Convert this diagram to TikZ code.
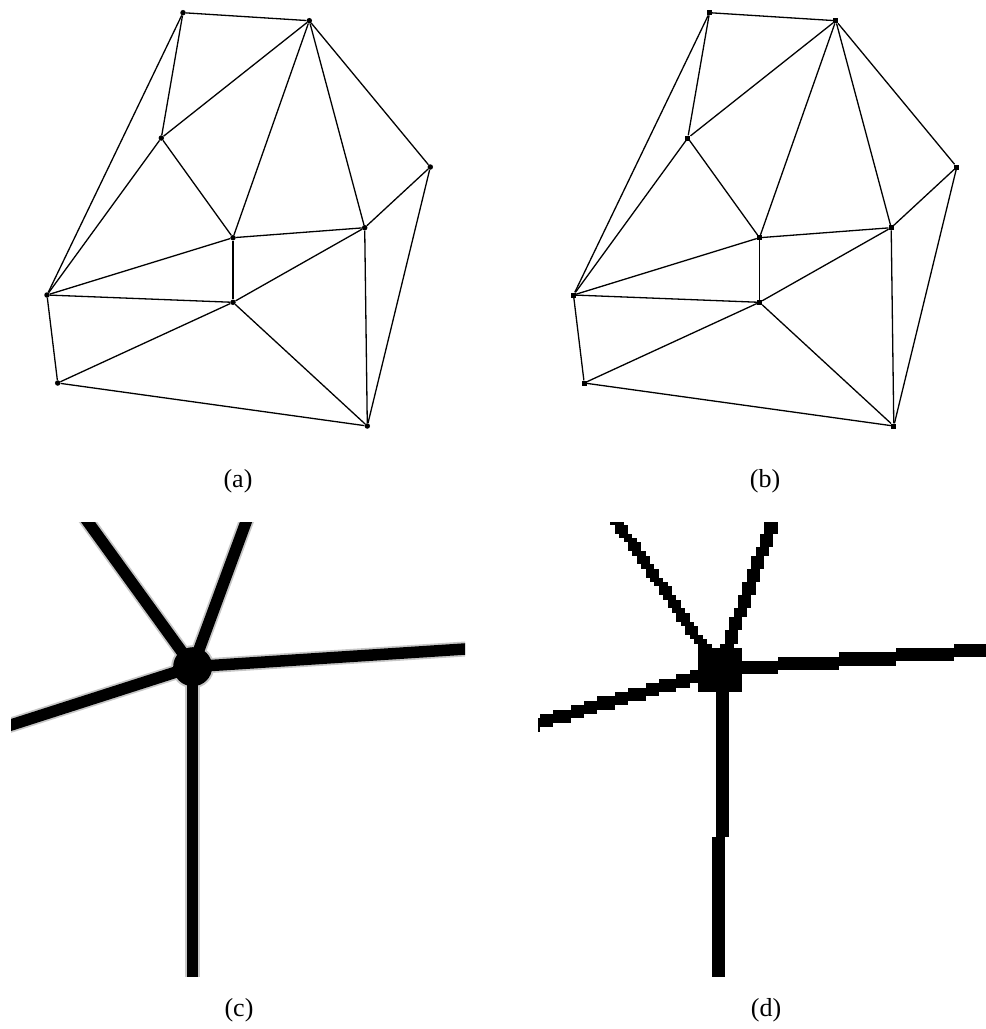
\documentclass[tikz,border=0pt]{standalone}
\usepackage{fontspec}
\setmainfont{Liberation Serif}
\usetikzlibrary{calc}
% pixelated (aliased) line, horizontal-major: #1,#2 = block range, (#3,#4) point on line, #5 = slope dy/dx
\newcommand\hpixrow[5]{%
  \foreach \k in {#1,...,#2}{%
    \pgfmathsetmacro\xa{716+\k*4.4}%
    \pgfmathsetmacro\yc{#4+(\xa+2.2-#3)*(#5)}%
    \pgfmathsetmacro\ya{648+(floor((\yc-648)/4.4)-1)*4.4}%
    \fill (\xa,\ya) rectangle ++(4.4,13.2);}}
% vertical-major: #5 = slope dx/dy
\newcommand\vpixcol[5]{%
  \foreach \k in {#1,...,#2}{%
    \pgfmathsetmacro\ya{648+\k*4.4}%
    \pgfmathsetmacro\xc{#3+(\ya+2.2-#4)*(#5)}%
    \pgfmathsetmacro\xa{716+(floor((\xc-716)/4.4)-1)*4.4}%
    \fill (\xa,\ya) rectangle ++(13.2,4.4);}}
\begin{document}
\begin{tikzpicture}[x=1pt,y=-1pt,
  edge/.style={line width=1.3pt},
  rdot/.style={circle,fill=black,inner sep=0pt,minimum size=5.5pt},
  sdot/.style={rectangle,fill=black,inner sep=0pt,minimum size=5pt},
  captxt/.style={font=\fontsize{26}{30}\selectfont,inner sep=0pt},
  aafringe/.style={line width=15pt,black!22},
  aacore/.style={line width=11.5pt,black}]
\useasboundingbox (0,0) rectangle (986,1029);

% ---------- panels (a) and (b): the triangulation ----------
\foreach \n/\px/\py in {1/183/12.7,2/309.3/20.7,3/161.3/138,4/430.3/167,5/233/237.7,
                        6/364.7/227.7,7/47/295,8/233/302.3,9/57.7/383,10/367.3/426}{
  \node[rdot] (a\n) at (\px,\py) {};
  \node[sdot] (b\n) at (\px+526.5,\py) {};
}
\foreach \u/\v in {1/2,1/3,1/7,2/3,2/5,2/6,2/4,3/5,3/7,4/6,4/10,5/6,5/8,5/7,
                   6/8,6/10,7/8,7/9,8/9,8/10,9/10}{
  \draw[edge] (a\u) -- (a\v);
  \draw[edge] (b\u) -- (b\v);
}

% ---------- panel (c): anti-aliased close-up ----------
\coordinate (cV)  at (192.7,666.7);
\coordinate (cUL) at (88,522);
\coordinate (cUR) at (246,522);
\coordinate (cR)  at (465,649);
\coordinate (cL)  at (11,725);
\coordinate (cD)  at (192.7,976);
\begin{scope}
  \clip (11,522) rectangle (465,976);
  \foreach \e in {cUL,cUR,cR,cL,cD}
    \draw[aafringe] (cV) -- ($(cV)!1.3!(\e)$);
  \fill[black!22] (cV) circle (21.5);
  \foreach \e in {cUL,cUR,cR,cL,cD}
    \draw[aacore] (cV) -- ($(cV)!1.3!(\e)$);
  \fill (cV) circle (19.5);
\end{scope}

% ---------- panel (d): aliased close-up ----------
\coordinate (dV) at (720,670);
\begin{scope}
  \clip (538,522) rectangle (986,976);
  \fill (698.4,648) rectangle (742.4,692);
  \hpixrow{0}{62}{720}{670}{-20/266}
  \hpixrow{-42}{-1}{720}{670}{-53/182}
  \vpixcol{-30}{0}{720}{670}{103/148}
  \vpixcol{-30}{0}{720}{670}{-52.5/148}
  \vpixcol{0}{76}{722}{670}{-3/310}
\end{scope}

% ---------- captions ----------
\node[captxt] (capa) at (238,481)  {(a)};
\node[captxt] (capb) at (765,481)  {(b)};
\node[captxt] (capc) at (239,1010) {(c)};
\node[captxt] (capd) at (766,1010) {(d)};
\end{tikzpicture}
\end{document}
